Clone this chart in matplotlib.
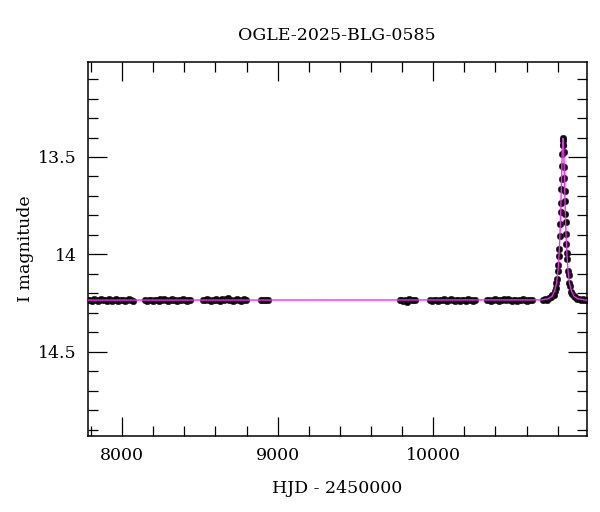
#!/usr/bin/env python
# -*- coding:utf8 -*-
"""
OGLE-2025-BLG-0585 light curve (I band) with the model line
"""
import matplotlib
matplotlib.use("Agg")
import matplotlib.pyplot as plt
from matplotlib.ticker import MultipleLocator

plt.rcParams['font.family'] = ['DejaVu Serif']

title = "OGLE-2025-BLG-0585"

# baseline seasons: HJD - 2450000, I mag
s1_t = [7782, 7794, 7806, 7818, 7830, 7842, 7853, 7865, 7877, 7889, 7901, 7913, 7925,
        7937, 7949, 7960, 7972, 7984, 7996, 8008, 8020, 8032, 8044, 8056, 8068]
s1_m = [14.236, 14.232, 14.238, 14.230, 14.235, 14.241, 14.233, 14.229, 14.237, 14.234,
        14.240, 14.231, 14.236, 14.238, 14.233, 14.230, 14.239, 14.235, 14.232, 14.237,
        14.241, 14.234, 14.231, 14.236, 14.238]

s2_t = [8150, 8162, 8174, 8186, 8198, 8210, 8222, 8234, 8246, 8258, 8270, 8282, 8294,
        8306, 8318, 8330, 8342, 8354, 8366, 8378, 8390, 8402, 8414, 8426, 8435]
s2_m = [14.235, 14.238, 14.232, 14.236, 14.240, 14.233, 14.237, 14.241, 14.231, 14.235,
        14.229, 14.236, 14.239, 14.233, 14.230, 14.237, 14.234, 14.240, 14.232, 14.236,
        14.228, 14.235, 14.238, 14.233, 14.236]

s3_t = [8522, 8534, 8546, 8558, 8570, 8582, 8594, 8606, 8618, 8630, 8642, 8654, 8666,
        8678, 8690, 8702, 8714, 8726, 8738, 8750, 8762, 8774, 8786, 8795]
s3_m = [14.237, 14.233, 14.230, 14.236, 14.239, 14.232, 14.235, 14.227, 14.234, 14.238,
        14.231, 14.236, 14.229, 14.225, 14.233, 14.237, 14.240, 14.234, 14.231, 14.236,
        14.239, 14.233, 14.230, 14.235]

s4_t = [8890, 8902, 8914, 8926, 8936]
s4_m = [14.234, 14.237, 14.232, 14.236, 14.233]

s5_t = [9783, 9795, 9807, 9819, 9831, 9843, 9855, 9867, 9880]
s5_m = [14.236, 14.232, 14.239, 14.234, 14.245, 14.231, 14.237, 14.233, 14.235]

s6_t = [9982, 9994, 10006, 10018, 10030, 10042, 10054, 10066, 10078, 10090, 10102, 10114,
        10126, 10138, 10150, 10162, 10174, 10186, 10198, 10210, 10222, 10234, 10246,
        10258, 10270]
s6_m = [14.235, 14.238, 14.232, 14.236, 14.240, 14.233, 14.237, 14.231, 14.235, 14.239,
        14.234, 14.230, 14.236, 14.238, 14.233, 14.237, 14.241, 14.232, 14.235, 14.238,
        14.231, 14.236, 14.234, 14.239, 14.233]

s7_t = [10348, 10360, 10372, 10384, 10396, 10408, 10420, 10432, 10444, 10456, 10468, 10480,
        10492, 10504, 10516, 10528, 10540, 10552, 10564, 10576, 10588, 10600, 10612,
        10624, 10634]
s7_m = [14.236, 14.232, 14.238, 14.234, 14.229, 14.236, 14.240, 14.233, 14.237, 14.231,
        14.235, 14.228, 14.234, 14.238, 14.232, 14.236, 14.239, 14.233, 14.237, 14.231,
        14.235, 14.238, 14.234, 14.236, 14.233]

# last season with the event
s8_t = [10708, 10720, 10732, 10744, 10756, 10766, 10774, 10781, 10787, 10792, 10797, 10801,
        10805, 10808, 10811, 10814, 10817, 10819, 10821, 10823, 10825, 10827, 10829, 10831,
        10833, 10834, 10835, 10837, 10839, 10841, 10843, 10845, 10847, 10849, 10851, 10853,
        10856, 10859, 10862, 10866, 10870, 10875, 10880, 10887, 10894, 10902, 10912, 10924,
        10936, 10948, 10960, 10972, 10984]
s8_m = [14.233, 14.230, 14.232, 14.224, 14.221, 14.210, 14.207, 14.188, 14.172, 14.147,
        14.128, 14.086, 14.054, 14.006, 13.975, 13.905, 13.846, 13.785, 13.736, 13.664,
        13.615, 13.545, 13.484, 13.438, 13.412, 13.405, 13.413, 13.440, 13.476, 13.550,
        13.606, 13.676, 13.725, 13.795, 13.836, 13.895, 13.946, 13.994, 14.026, 14.084,
        14.106, 14.148, 14.162, 14.193, 14.203, 14.216, 14.218, 14.228, 14.227, 14.234,
        14.231, 14.236, 14.233]

# model curve
model_t = [7778, 10694, 10739, 10764, 10779, 10792, 10801, 10808, 10813, 10817, 10820,
           10823, 10826, 10829, 10831, 10834, 10837, 10839, 10842, 10845, 10848, 10851,
           10855, 10860, 10867, 10876, 10889, 10904, 10929, 10974, 10987]
model_m = [14.235, 14.234, 14.228, 14.215, 14.19, 14.15, 14.09, 14.01, 13.93, 13.84,
           13.76, 13.67, 13.57, 13.48, 13.435, 13.405, 13.435, 13.48, 13.57, 13.67, 13.76,
           13.84, 13.93, 14.01, 14.09, 14.15, 14.19, 14.215, 14.228, 14.234, 14.235]

t_all = s1_t + s2_t + s3_t + s4_t + s5_t + s6_t + s7_t + s8_t
m_all = s1_m + s2_m + s3_m + s4_m + s5_m + s6_m + s7_m + s8_m

fig = plt.figure(figsize=(6.0, 5.12), dpi=100)
ax = fig.add_axes([0.146, 0.148, 0.832, 0.731])

ax.scatter(t_all, m_all, s=22, c='black', edgecolors='#222222', linewidths=0.4, zorder=2)
ax.plot(model_t, model_m, color='#ff22ff', lw=1.0, zorder=3)

ax.set_xlim(7778, 10987)
ax.set_ylim(14.934, 13.012)  # magnitudes: brighter up

ax.xaxis.set_major_locator(MultipleLocator(1000))
ax.xaxis.set_minor_locator(MultipleLocator(200))
ax.yaxis.set_minor_locator(MultipleLocator(0.1))
ax.set_yticks([13.5, 14.0, 14.5])
ax.set_yticklabels(['13.5', '14', '14.5'])

ax.tick_params(which='both', direction='in', top=True, right=True, width=0.9, labelsize=12.5)
ax.tick_params(which='major', length=14, pad=8)
ax.tick_params(which='minor', length=7)
for sp in ax.spines.values():
    sp.set_linewidth(1.1)

ax.set_xlabel("HJD - 2450000", fontsize=12.5, labelpad=11)
ax.set_ylabel("I magnitude", fontsize=12.5, labelpad=3)
ax.set_title(title, fontsize=12.5, pad=16)

fig.savefig("out.png", dpi=100)
